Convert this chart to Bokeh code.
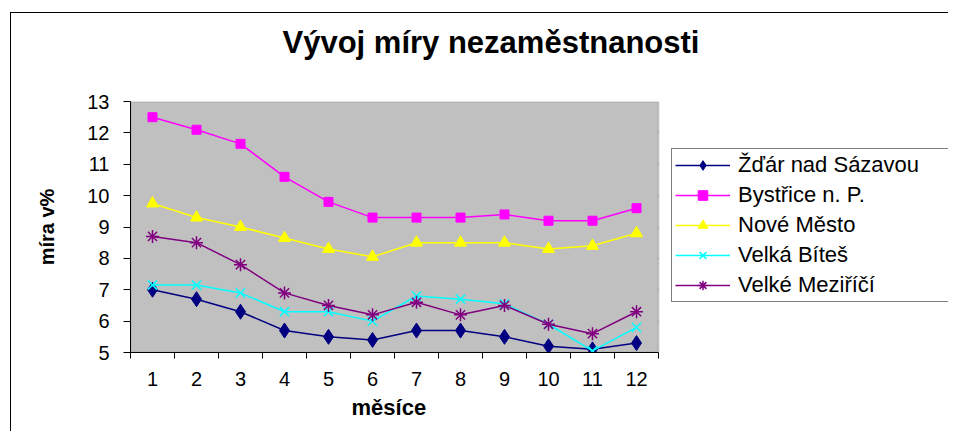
from bokeh.plotting import figure
from bokeh.models import (Range1d, FixedTicker, Legend, LegendItem, InlineStyleSheet,
                          BoxAnnotation, Title)
from bokeh.embed import file_html
from bokeh.resources import INLINE

months = list(range(1, 13))
zdar = [7.0, 6.7, 6.3, 5.7, 5.5, 5.4, 5.7, 5.7, 5.5, 5.2, 5.1, 5.3]
bystrice = [12.5, 12.1, 11.65, 10.6, 9.8, 9.3, 9.3, 9.3, 9.4, 9.2, 9.2, 9.6]
nove_mesto = [9.75, 9.3, 9.0, 8.65, 8.3, 8.05, 8.5, 8.5, 8.5, 8.3, 8.4, 8.8]
velka_bites = [7.15, 7.15, 6.9, 6.3, 6.3, 6.0, 6.8, 6.7, 6.55, 5.9, 5.05, 5.8]
velke_mezirici = [8.7, 8.5, 7.8, 6.9, 6.5, 6.2, 6.6, 6.2, 6.5, 5.9, 5.6, 6.3]
y_ticks = [5, 6, 7, 8, 9, 10, 11, 12, 13]

series = [
    ("Žďár nad Sázavou", zdar, "#000080", "diamond", 15),
    ("Bystřice n. P.", bystrice, "#FF00FF", "square", 9),
    ("Nové Město", nove_mesto, "#FFFF00", "triangle", 12),
    ("Velká Bíteš", velka_bites, "#00FFFF", "x", 13),
    ("Velké Meziříčí", velke_mezirici, "#800080", "asterisk", 13),
]

FONT = "Liberation Sans"
W, H = 948, 431
LEFT, TOP, BOTTOM = 130, 101, 79
PLOT_W = 528                       # width of the grey plotting area
X0, X1 = 0.5, 12.5                 # category extent
# frame extends to the right edge so that the legend (drawn inside the frame) is not clipped
x_end = X0 + (X1 - X0) * (W - LEFT) / PLOT_W

p = figure(width=W, height=H, output_backend="svg", toolbar_location=None, title=None,
           x_range=Range1d(X0, x_end), y_range=Range1d(y_ticks[0], y_ticks[-1]),
           min_border_left=LEFT, min_border_right=0, min_border_top=TOP, min_border_bottom=BOTTOM)
p.background_fill_color = "white"
p.border_fill_color = "white"
p.outline_line_color = None

# grey plotting area
area = BoxAnnotation(left=X0, right=X1, bottom=y_ticks[0], top=y_ticks[-1],
                     fill_color="#C0C0C0", fill_alpha=1.0,
                     line_color="#808080", line_width=2, level="underlay")
p.add_layout(area)

# spacer between the plot frame and the title, then the title
spacer = Title(text=" ", text_font_size="2px", standoff=38)
p.add_layout(spacer, "above")
main_title = Title(text="Vývoj míry nezaměstnanosti", align="left", offset=152, standoff=0,
                   text_font=FONT, text_font_style="bold", text_font_size="31px",
                   text_color="black")
p.add_layout(main_title, "above")

# axes
p.xaxis.bounds = (X0, X1)
p.xaxis.ticker = FixedTicker(ticks=months, minor_ticks=[m + 0.5 for m in range(0, 13)])
p.xaxis.major_tick_out = 0
p.xaxis.major_tick_in = 0
p.xaxis.minor_tick_out = 6
p.xaxis.minor_tick_in = 0
p.xaxis.minor_tick_line_color = "black"
p.xaxis.axis_line_color = "black"
p.xaxis.major_label_text_font = FONT
p.xaxis.major_label_text_font_size = "20px"
p.xaxis.major_label_text_color = "black"
p.xaxis.major_label_standoff = 13

# x-axis title centred under the grey plotting area
xlabel = Title(text="měsíce", align="left", offset=221, standoff=8,
               text_font=FONT, text_font_style="bold", text_font_size="22px",
               text_color="black")
p.add_layout(xlabel, "below")

p.yaxis.ticker = FixedTicker(ticks=y_ticks, minor_ticks=[])
p.yaxis.major_tick_out = 7
p.yaxis.major_tick_in = 0
p.yaxis.major_tick_line_color = "black"
p.yaxis.axis_line_color = "black"
p.yaxis.major_label_text_font = FONT
p.yaxis.major_label_text_font_size = "20px"
p.yaxis.major_label_text_color = "black"
p.yaxis.major_label_standoff = 14
p.yaxis.axis_label = "míra v%"
p.yaxis.axis_label_text_font = FONT
p.yaxis.axis_label_text_font_style = "bold"
p.yaxis.axis_label_text_font_size = "20px"
p.yaxis.axis_label_text_color = "black"
p.yaxis.axis_label_standoff = 26

p.xgrid.grid_line_color = None
p.ygrid.grid_line_color = "black"
p.ygrid.grid_line_width = 1
p.ygrid.cross_bounds = (X0, X1)

items = []
for name, vals, color, marker, size in series:
    r1 = p.line(months, vals, line_color=color, line_width=1.5)
    if marker in ("x", "asterisk"):
        r2 = p.scatter(months, vals, marker=marker, size=size, line_color=color, line_width=1.5)
    else:
        r2 = p.scatter(months, vals, marker=marker, size=size, fill_color=color, line_color=color)
    items.append(LegendItem(label=name, renderers=[r1, r2]))

legend = Legend(items=items, location=(541, 50), orientation="vertical",
                label_text_font=FONT, label_text_font_size="22px", label_text_color="black",
                glyph_width=55, glyph_height=24, label_height=24, spacing=4,
                padding=3, margin=0, label_standoff=8, label_width=215,
                border_line_color="black", border_line_width=1,
                background_fill_color="white", background_fill_alpha=1.0)
p.add_layout(legend, "center")

p.stylesheets = [InlineStyleSheet(css=(
    ":host { position: relative; }\n"
    ":host::after { content: ''; position: absolute; left: 10px; top: 12px; right: 0; bottom: 0; "
    "border-left: 1.5px solid black; border-top: 1.5px solid black; pointer-events: none; z-index: 10; }"
))]

open("out.html", "w").write(file_html(p, INLINE))
